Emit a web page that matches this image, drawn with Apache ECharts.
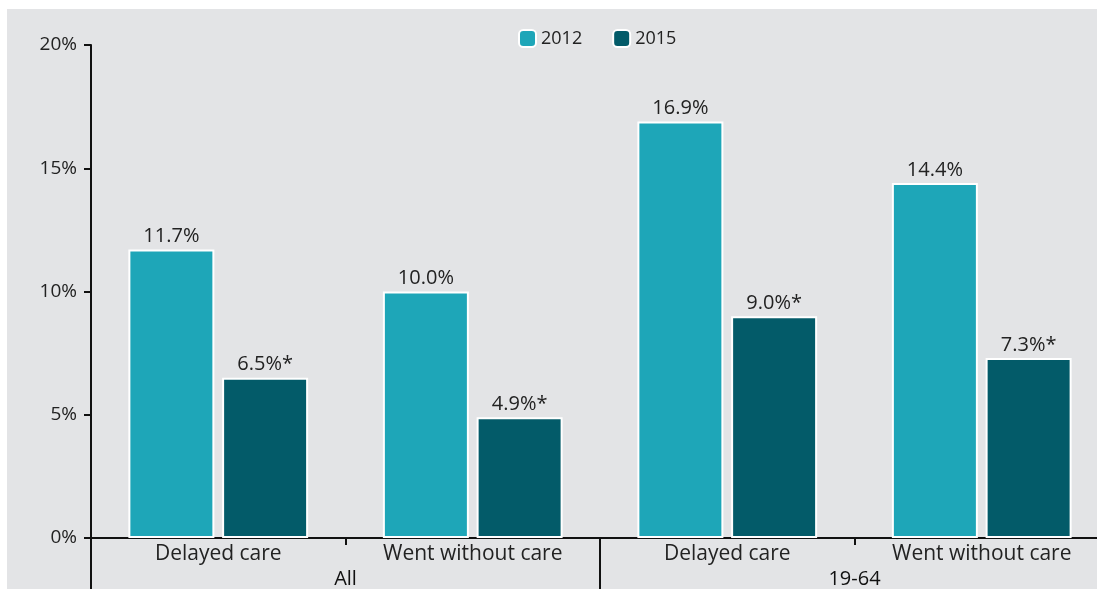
<!DOCTYPE html>
<html>
<head>
<meta charset="utf-8">
<script src="https://cdn.jsdelivr.net/npm/echarts@6/dist/echarts.min.js"></script>
<style>
  html, body { margin: 0; padding: 0; background: #fff; overflow: hidden; }
  .bg { position: absolute; left: 7px; top: 9px; right: 0; bottom: 0; background: #e3e4e6; }
  #chart { position: absolute; left: 7px; top: 9px; width: 1102px; height: 580px; }
</style>
</head>
<body>
<div class="bg"></div>
<div id="chart"></div>
<script>
var categories = ['Delayed care', 'Went without care', 'Delayed care', 'Went without care']
var groups = ['All', '19-64']
var values2012 = [11.7, 10.0, 16.9, 14.4]
var values2015 = [6.5, 4.9, 9.0, 7.3]
var yTicks = [0, 5, 10, 15, 20]

var font = '"Open Sans", "Noto Sans", sans-serif'
var textColor = '#222'

var chart = echarts.init(document.getElementById('chart'))

function barSeries(name, data, color, suffix) {
  return {
    name: name,
    type: 'bar',
    xAxisIndex: 0,
    data: data,
    barWidth: 86,
    barGap: '9%',
    itemStyle: { color: color, borderColor: '#fff', borderWidth: 2 },
    label: {
      show: true,
      position: 'top',
      distance: 3,
      fontFamily: font,
      fontSize: 20,
      color: textColor,
      formatter: function(p) { return p.value.toFixed(1) + '%' + suffix }
    }
  }
}

chart.setOption({
  animation: false,
  textStyle: { fontFamily: font },
  legend: {
    left: 506,
    top: 15,
    itemWidth: 17,
    itemHeight: 17,
    itemGap: 30,
    textStyle: { fontFamily: font, fontSize: 18, color: textColor }
  },
  grid: { left: 84, right: 0, top: 36, bottom: 51 },
  xAxis: [
    {
      type: 'category',
      data: categories,
      axisLine: { lineStyle: { color: '#111', width: 2 } },
      axisTick: { show: true, length: 7, lineStyle: { color: '#111', width: 2 } },
      axisLabel: { fontFamily: font, fontSize: 21, color: textColor, margin: 6, interval: 0 }
    },
    {
      type: 'category',
      data: groups,
      position: 'bottom',
      axisLine: { show: false },
      axisTick: { show: true, length: 60, lineStyle: { color: '#111', width: 2 } },
      axisLabel: { fontFamily: font, fontSize: 20, color: '#111', margin: 31, interval: 0 }
    }
  ],
  yAxis: {
    type: 'value',
    min: yTicks[0],
    max: yTicks[yTicks.length - 1],
    interval: 5,
    splitLine: { show: false },
    axisLine: { show: true, lineStyle: { color: '#111', width: 2 } },
    axisTick: { show: true, length: 7, lineStyle: { color: '#111', width: 2 } },
    axisLabel: { fontFamily: font, fontSize: 19, color: textColor, margin: 14, formatter: '{value}%' }
  },
  series: [
    barSeries('2012', values2012, '#1ea6b8', ''),
    barSeries('2015', values2015, '#035b69', '*')
  ]
})
</script>
</body>
</html>
